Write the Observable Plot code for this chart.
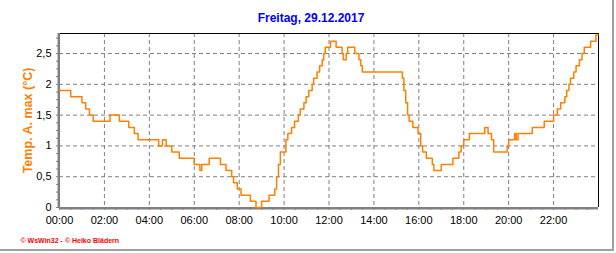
<!DOCTYPE html>
<html><head><meta charset="utf-8">
<script src="https://cdn.jsdelivr.net/npm/d3@7"></script>
<script src="https://cdn.jsdelivr.net/npm/@observablehq/plot@0.6"></script>
<style>
html,body{margin:0;padding:0;background:#fff;}
#wrap{position:relative;width:616px;height:253px;overflow:hidden;}
#wrap svg{display:block;}
#border{position:absolute;left:0;top:0;width:612px;height:249px;border-right:2px solid #a0a0a0;border-bottom:2px solid #a0a0a0;pointer-events:none;}
</style></head><body>
<div id="wrap"><div id="border"></div></div>
<script>
const title = "Freitag, 29.12.2017";
const yLabel = "Temp. A. max (°C)";
const credit = "© WsWin32 - © Heiko Blädern";
const xTickHours = [0, 2, 4, 6, 8, 10, 12, 14, 16, 18, 20, 22];
const xTickLabels = ["00:00","02:00","04:00","06:00","08:00","10:00","12:00","14:00","16:00","18:00","20:00","22:00"];
const yTicks = [0, 0.5, 1, 1.5, 2, 2.5];
const yTickLabels = ["0", "0,5", "1", "1,5", "2", "2,5"];

const times = [
  "00:00","00:30","01:00","01:10","01:20","01:30","02:15","02:40","03:05","03:20",
  "03:30","04:25","04:35","04:45","05:00","05:20","06:00","06:15","06:20","06:40",
  "07:10","07:25","07:40","07:45","07:55","08:05","08:30","08:45","09:00","09:20",
  "09:35","09:40","09:45","09:50","10:05","10:10","10:20","10:28","10:38","10:43",
  "10:53","10:59","11:06","11:15","11:19","11:28","11:35","11:42","11:46","11:50",
  "12:04","12:19","12:35","12:38","12:46","12:50","13:09","13:20","13:25","13:29",
  "15:16","15:20","15:25","15:30","15:34","15:44","15:58","16:05","16:10","16:20",
  "16:36","16:40","17:00","17:31","17:47","17:53","18:00","18:15","18:56","19:05",
  "19:14","19:20","19:56","20:00","20:16","20:20","20:25","21:03","21:35","22:00",
  "22:10","22:19","22:30","22:35","22:41","22:45","22:54","23:00","23:09","23:16",
  "23:22","23:39","23:53","23:59"
];
const values = [
  1.9, 1.8, 1.7, 1.6, 1.5, 1.4, 1.5, 1.4, 1.3, 1.2,
  1.1, 1.0, 1.1, 1.0, 0.9, 0.8, 0.7, 0.6, 0.7, 0.8,
  0.7, 0.6, 0.5, 0.4, 0.3, 0.2, 0.1, 0.0, 0.1, 0.2,
  0.3, 0.5, 0.7, 0.9, 1.1, 1.2, 1.3, 1.4, 1.5, 1.6,
  1.7, 1.8, 1.9, 2.0, 2.1, 2.2, 2.3, 2.4, 2.5, 2.6,
  2.7, 2.6, 2.5, 2.4, 2.5, 2.6, 2.5, 2.4, 2.3, 2.2,
  2.1, 1.9, 1.7, 1.5, 1.4, 1.3, 1.2, 1.0, 0.9, 0.8,
  0.7, 0.6, 0.7, 0.8, 0.9, 1.0, 1.1, 1.2, 1.3, 1.2,
  1.1, 0.9, 1.0, 1.1, 1.2, 1.1, 1.2, 1.3, 1.4, 1.5,
  1.6, 1.7, 1.8, 1.9, 2.0, 2.1, 2.2, 2.3, 2.4, 2.5,
  2.6, 2.7, 2.8, 2.8
];

const toHours = s => { const [h, m] = s.split(":").map(Number); return h + m / 60; };
const data = times.map((t, i) => ({t: toHours(t), v: values[i]}));
const yMax = 2.825;
const xMax = 24;

const plot = Plot.plot({
  width: 616, height: 253,
  marginLeft: 59, marginRight: 18, marginTop: 33, marginBottom: 46,
  style: {fontFamily: "'Liberation Sans', Arial, sans-serif", fontSize: "11px", color: "#000", background: "transparent", overflow: "visible"},
  x: {type: "linear", domain: [0, xMax]},
  y: {domain: [0, yMax]},
  marks: [
    Plot.gridX(xTickHours.slice(1), {stroke: "#808080", strokeOpacity: 1, strokeDasharray: "4,3"}),
    Plot.gridY(yTicks.slice(1), {stroke: "#808080", strokeOpacity: 1, strokeDasharray: "4,3"}),
    Plot.axisX(d3.range(0, 24, 0.5), {tickSize: 3, tickFormat: () => "", label: null, stroke: "#808080"}),
    Plot.axisX(xTickHours, {tickSize: 0, tickPadding: 9, tickFormat: d => xTickLabels[xTickHours.indexOf(d)], label: null, fill: "#000"}),
    Plot.axisY(d3.range(0, 2.8, 0.125), {tickSize: 3, tickFormat: () => "", label: null, stroke: "#808080"}),
    Plot.axisY(yTicks, {tickSize: 0, tickPadding: 8, tickFormat: d => yTickLabels[yTicks.indexOf(d)], label: null, fill: "#000"}),
    Plot.ruleY([yMax], {stroke: "#000", strokeWidth: 1}),
    Plot.ruleX([xMax], {stroke: "#000", strokeWidth: 1}),
    Plot.ruleX([0], {stroke: "#808080", strokeWidth: 2.5, dx: -0.7}),
    Plot.ruleY([0], {stroke: "#808080", strokeWidth: 2.5, dy: 0.8}),
    Plot.line(data, {x: "t", y: "v", curve: "step-after", stroke: "#ff8000", strokeWidth: 1.5}),
    Plot.text([title], {text: d => d, frameAnchor: "top", dx: -18, dy: -15, fill: "#0000ff", fontWeight: "bold", fontSize: 12, lineAnchor: "middle"}),
    Plot.text([yLabel], {text: d => d, frameAnchor: "left", dx: -32, rotate: -90, textAnchor: "middle", fill: "#ff8000", fontWeight: "bold", fontSize: 12.5, lineAnchor: "middle"}),
    Plot.text([credit], {text: d => d, frameAnchor: "bottom-left", dx: -39, dy: 33, textAnchor: "start", fill: "#ff0000", fontSize: 7, fontWeight: "bold", lineAnchor: "middle"})
  ]
});
document.getElementById("wrap").insertBefore(plot, document.getElementById("border"));
</script>
</body></html>
